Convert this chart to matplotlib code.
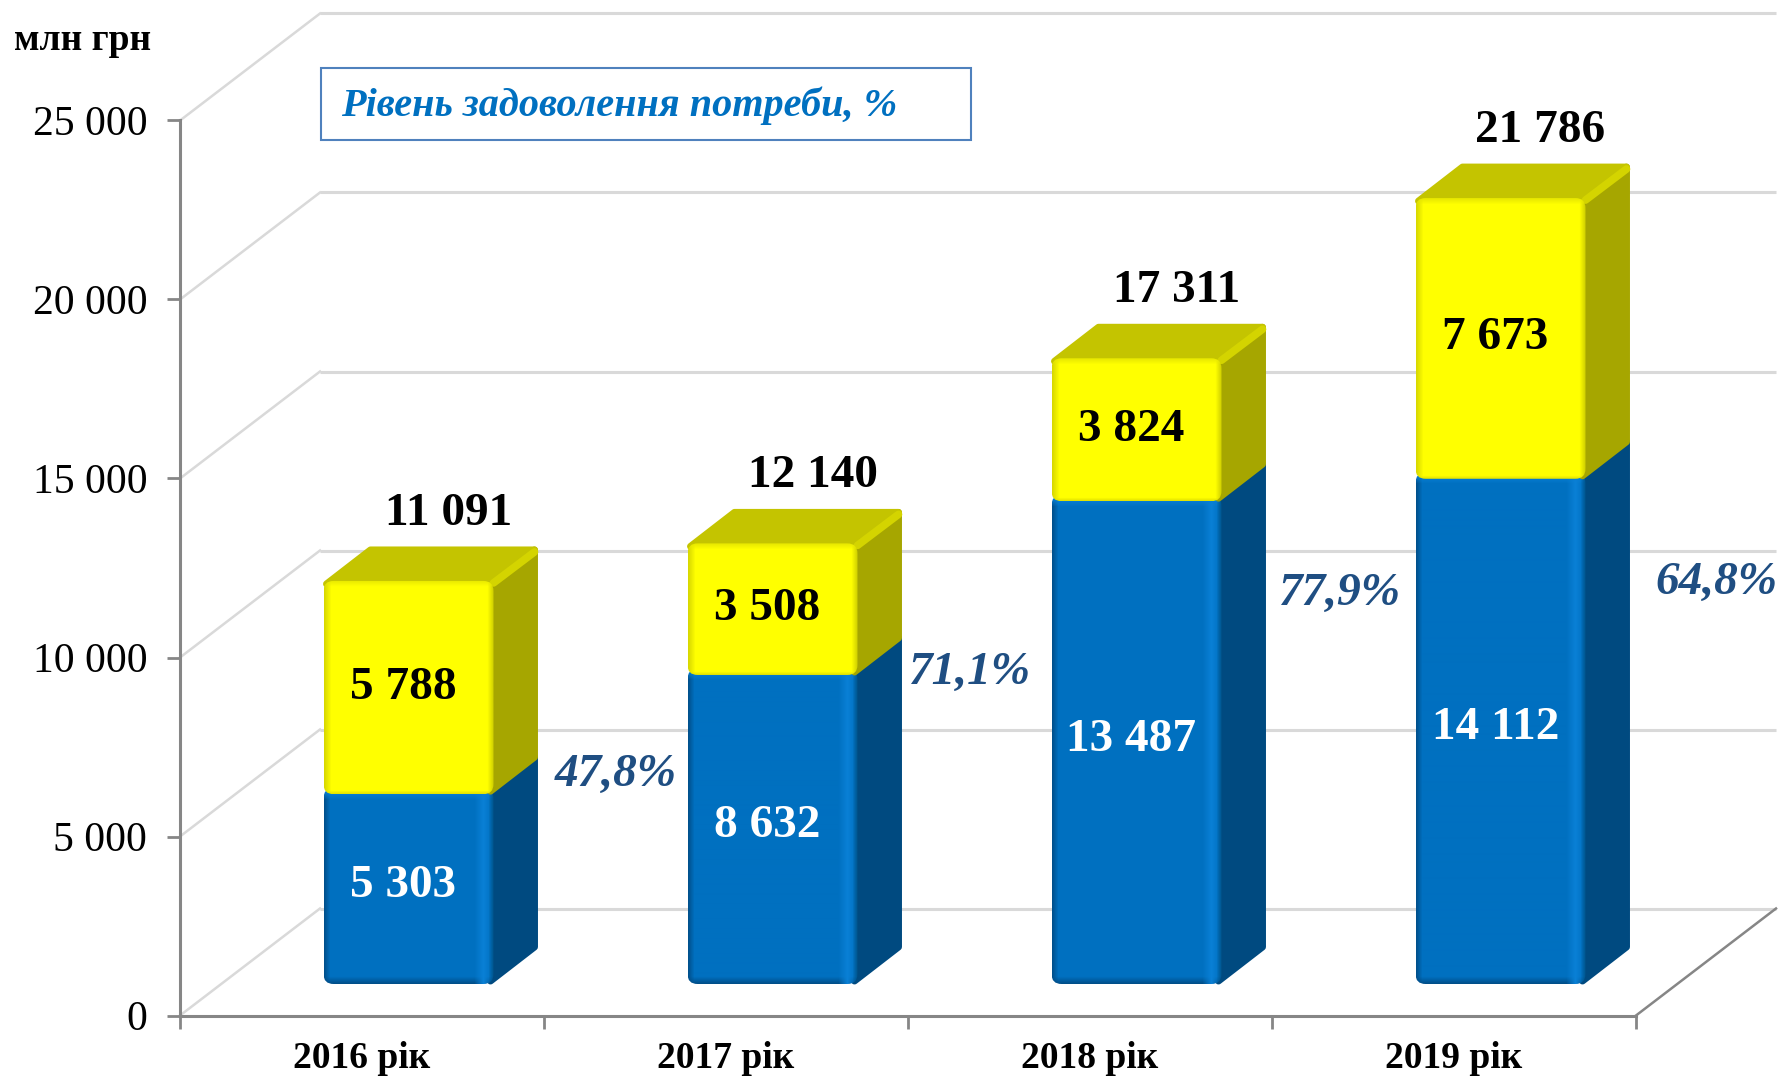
import numpy as np
import matplotlib
matplotlib.use("Agg")
import matplotlib.pyplot as plt
from matplotlib.patches import FancyBboxPatch, Polygon, Rectangle
from matplotlib.colors import to_rgb

# Chart data
years = ["2016 рік", "2017 рік", "2018 рік", "2019 рік"]
blue_values = [5303, 8632, 13487, 14112]
yellow_values = [5788, 3508, 3824, 7673]
totals = [11091, 12140, 17311, 21786]
percent_labels = ["47,8%", "71,1%", "77,9%", "64,8%"]
y_ticks = [0, 5000, 10000, 15000, 20000, 25000]

# Where the percent labels sit, in pixels of the picture
percent_pos = [(616, 775), (969, 673), (1339, 594), (1716, 583)]

W, H = 1784, 1081
plt.rcParams["font.family"] = ["Liberation Serif", "DejaVu Serif"]

fig = plt.figure(figsize=(W / 100, H / 100), dpi=100, facecolor="white")

# Axes placed on the front plane of the chart box
left, right, bottom, top = 180, 1636, 1015.5, 120.5
ax = fig.add_axes([left / W, 1 - bottom / H, (right - left) / W, (bottom - top) / H])
ax.set_xlim(0, 4)
ax.set_ylim(0, 25000)
ax.patch.set_visible(False)

# Pixel sizes expressed in data units
ux = 4 / (right - left)
uy = 25000 / (bottom - top)


def px(x, y):
    return (x / W, 1 - y / H)


# Back wall, side wall and floor
wall_dx = 140 * ux
wall_dy = 107 * uy
for v in y_ticks:
    ax.plot([wall_dx, 4 + wall_dx], [v + wall_dy, v + wall_dy], color="#D9D9D9", lw=2.2,
            clip_on=False, zorder=1, solid_capstyle="butt")
    ax.plot([0, wall_dx], [v, v + wall_dy], color="#D9D9D9", lw=1.8, clip_on=False, zorder=1)
ax.plot([4, 4 + wall_dx], [0, wall_dy], color="#868686", lw=1.8, clip_on=False, zorder=1)

# Real axis lines and ticks
for side in ["top", "right"]:
    ax.spines[side].set_visible(False)
for side in ["left", "bottom"]:
    ax.spines[side].set_color("#868686")
    ax.spines[side].set_linewidth(2.2)
ax.set_yticks(y_ticks)
ax.set_yticklabels([f"{v:,}".replace(",", " ") for v in y_ticks], fontsize=30)
ax.set_xticks([0, 1, 2, 3, 4])
ax.set_xticklabels([])
ax.set_xticks([0.5, 1.5, 2.5, 3.5], minor=True)
ax.set_xticklabels(years, minor=True, fontsize=27, fontweight="bold")
ax.tick_params(axis="y", length=9.5, width=2, color="#868686", pad=14)
ax.tick_params(axis="x", which="major", length=9, width=2, color="#868686")
ax.tick_params(axis="x", which="minor", length=0, pad=18)

# Bar box geometry
bar_left = 146.5 * ux
bar_w = 164 * ux
floor = 34.5 * uy
depth_x = 44 * ux
depth_y = 34 * uy
aspect = uy / ux


def shade_face(w, h, base, edges):
    # Bevel look: blend a colour in from each edge of the front face
    img = np.ones((h, w, 3)) * np.array(to_rgb(base))
    yy, xx = np.mgrid[0:h, 0:w]
    dist = {"left": xx, "right": w - 1 - xx, "top": yy, "bottom": h - 1 - yy}
    for name, col, size, off in edges:
        a = np.clip(1 - np.abs(dist[name] - off) / size, 0, 1)[..., None]
        img = img * (1 - a) + np.array(to_rgb(col)) * a
    return img


def draw_box(x0, y0, y1, face, side_col, top_col, edges, z, show_top=False, strip=None):
    x1 = x0 + bar_w
    dx, dy = depth_x, depth_y
    side = Polygon([(x1, y0), (x1 + dx, y0 + dy), (x1 + dx, y1 + dy), (x1, y1)], closed=True,
                   fc=side_col, ec=side_col, lw=5, joinstyle="round", zorder=z, clip_on=False)
    ax.add_patch(side)
    if show_top:
        roof = Polygon([(x0, y1), (x0 + dx, y1 + dy), (x1 + dx, y1 + dy), (x1, y1)], closed=True,
                       fc=top_col, ec=top_col, lw=5, joinstyle="round", zorder=z, clip_on=False)
        ax.add_patch(roof)
        if strip:
            ax.plot([x1 + 3 * ux, x1 + dx], [y1 + 1 * uy, y1 + dy - 2 * uy], color=strip, lw=5.5,
                    zorder=z + 0.1, clip_on=False, solid_capstyle="round")
    # front face with rounded corners, gradient clipped to it
    r = 10 * ux
    shape = FancyBboxPatch((x0 - 3 * ux, y0 - 3 * uy), bar_w + 6 * ux, y1 - y0 + 6 * uy,
                           boxstyle=f"round,pad=0,rounding_size={r}", mutation_aspect=aspect,
                           fc="none", ec="none", zorder=z + 0.2, clip_on=False)
    ax.add_patch(shape)
    w_px = int(round((bar_w + 6 * ux) / ux))
    h_px = int(round((y1 - y0 + 6 * uy) / uy))
    im = ax.imshow(shade_face(w_px, h_px, face, edges), aspect="auto", origin="upper",
                   extent=(x0 - 3 * ux, x1 + 3 * ux, y0 - 3 * uy, y1 + 3 * uy),
                   zorder=z + 0.3, interpolation="bilinear")
    im.set_clip_path(shape)


blue_edges = [("left", "#00508C", 6, 0), ("bottom", "#004F8A", 7, 0),
              ("top", "#0A84DC", 9, 2), ("right", "#0A80D6", 9, 10), ("right", "#00568F", 5, 0)]
yellow_edges = [("left", "#D8D800", 7, 0), ("right", "#D0D000", 6, 0), ("top", "#E8E800", 6, 0),
                ("bottom", "#E4E400", 3, 0)]

for i in range(len(years)):
    x0 = i + bar_left
    b = blue_values[i]
    t = totals[i]
    draw_box(x0, floor, floor + b, "#0070C0", "#004A80", "#004A80", blue_edges, 3)
    draw_box(x0, floor + b, floor + t, "#FFFF00", "#A6A600", "#C4C400", yellow_edges, 4,
             show_top=True, strip="#D4D400")
    mid = x0 + bar_w / 2 - 5 * ux
    ax.text(mid, floor + b / 2, f"{b:,}".replace(",", " "), color="white", fontsize=34,
            fontweight="bold", ha="center", va="center", zorder=6)
    ax.text(mid, floor + b + yellow_values[i] / 2, f"{yellow_values[i]:,}".replace(",", " "),
            color="black", fontsize=34, fontweight="bold", ha="center", va="center", zorder=6)
    ax.text(x0 + bar_w / 2 + 40 * ux, floor + t + 70 * uy, f"{t:,}".replace(",", " "),
            color="black", fontsize=34, fontweight="bold", ha="center", va="center", zorder=6,
            clip_on=False)
    fig.text(*px(*percent_pos[i]), percent_labels[i], color="#1F4E82", fontsize=34,
             fontweight="bold", fontstyle="italic", ha="center", va="center", zorder=6)

ax.set_xlim(0, 4)
ax.set_ylim(0, 25000)

# Unit label and the note box
fig.text(*px(14, 41), "млн грн", fontsize=27, fontweight="bold", ha="left", va="center")
fig.add_artist(Rectangle(px(321, 140), 650 / W, 72 / H, transform=fig.transFigure,
                         fc="white", ec="#4F81BD", lw=1.5))
fig.text(*px(341, 106), "Рівень задоволення потреби, %", color="#0070C0", fontsize=29,
         fontweight="bold", fontstyle="italic", ha="left", va="center")

fig.savefig("out.png", dpi=100)
